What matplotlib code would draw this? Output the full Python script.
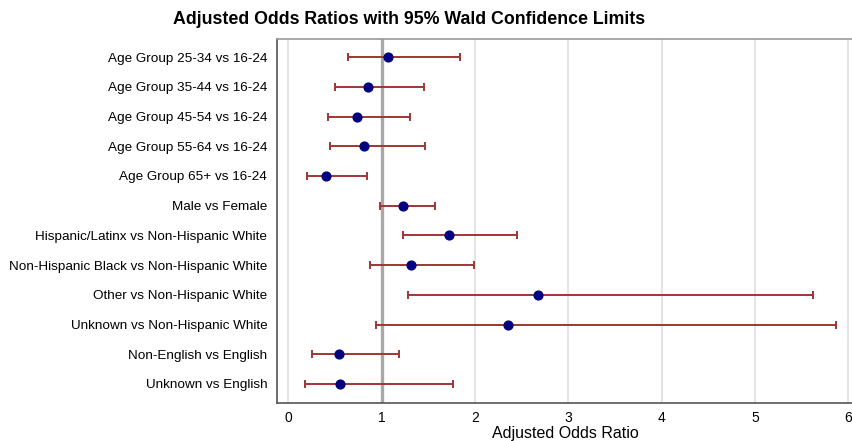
import matplotlib
matplotlib.use("Agg")
import matplotlib.pyplot as plt

plt.rcParams['font.family'] = ['Liberation Sans', 'DejaVu Sans']

labels = [
    "Age Group 25-34 vs 16-24",
    "Age Group 35-44 vs 16-24",
    "Age Group 45-54 vs 16-24",
    "Age Group 55-64 vs 16-24",
    "Age Group 65+ vs 16-24",
    "Male vs Female",
    "Hispanic/Latinx vs Non-Hispanic White",
    "Non-Hispanic Black vs Non-Hispanic White",
    "Other vs Non-Hispanic White",
    "Unknown vs Non-Hispanic White",
    "Non-English vs English",
    "Unknown vs English",
]
odds = [1.07, 0.85, 0.74, 0.81, 0.41, 1.23, 1.72, 1.32, 2.68, 2.35, 0.54, 0.55]
lower = [0.64, 0.50, 0.43, 0.45, 0.20, 0.98, 1.23, 0.88, 1.28, 0.94, 0.25, 0.18]
upper = [1.84, 1.45, 1.30, 1.46, 0.84, 1.57, 2.45, 1.99, 5.62, 5.87, 1.19, 1.77]
xticks = [0, 1, 2, 3, 4, 5, 6]

fig = plt.figure(figsize=(8.53, 4.41), dpi=100)
ax = fig.add_axes([277/853, 1 - 402.7/441, 1 - 277/853, (402.7 - 39.3)/441])

ypos = list(range(len(labels)))
for x in xticks:
    if x != 1:
        ax.axvline(x, color='#e4e4e4', lw=1.4, zorder=0)
ax.axvline(1, color='#a8a8a8', lw=2.4, zorder=1)

xerr = [[o - l for o, l in zip(odds, lower)], [u - o for o, u in zip(odds, upper)]]
ax.errorbar(odds, ypos, xerr=xerr, fmt='none', ecolor='#a03535', elinewidth=1.4,
            capsize=3, capthick=1.4, zorder=2)
ax.scatter(odds, ypos, s=40, color='#000080', zorder=3)

ax.set_yticks(ypos)
ax.set_yticklabels(labels, fontsize=9.7)
ax.set_ylim(11.63, -0.6)
ax.set_xlim(-0.12, 6.05)
ax.set_xticks(xticks)
ax.set_xticklabels([str(x) for x in xticks], fontsize=10)
ax.tick_params(axis='both', length=0)
ax.tick_params(axis='y', pad=7)
ax.tick_params(axis='x', pad=6)
ax.set_xlabel("Adjusted Odds Ratio", fontsize=11.5, labelpad=1)

for s in ['left', 'bottom']:
    ax.spines[s].set_color('#555555')
    ax.spines[s].set_linewidth(1.2)
ax.spines['top'].set_color('#999999')
ax.spines['top'].set_linewidth(1.2)
ax.spines['right'].set_visible(False)

fig.text(409/853, 1 - 19/441, "Adjusted Odds Ratios with 95% Wald Confidence Limits",
         ha='center', va='center', fontsize=12.8, fontweight='bold')

fig.savefig("out.png", dpi=100)
